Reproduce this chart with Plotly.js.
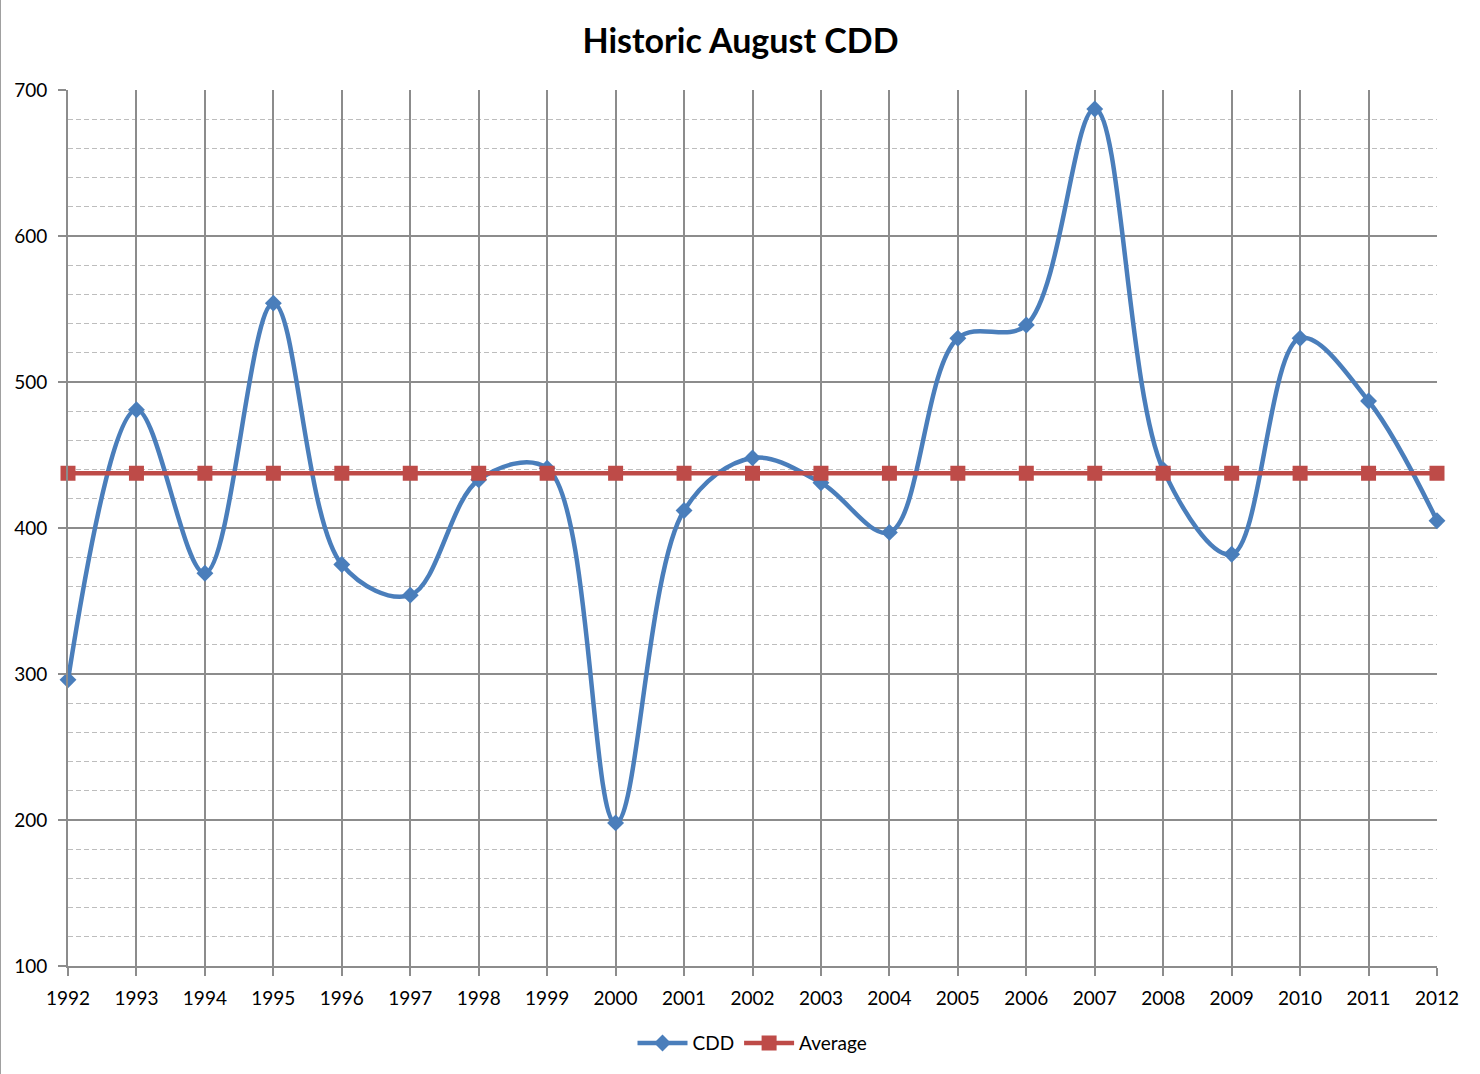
<!DOCTYPE html>
<html>
<head>
<meta charset="utf-8">
<script src="https://cdn.plot.ly/plotly-3.0.1.min.js"></script>
<style>
  body { margin: 0; background: #fff; }
  #chart { width: 1480px; height: 1074px; border-left: 1px solid #a0a0a0; box-sizing: border-box; }
</style>
</head>
<body>
<div id="chart"></div>
<script>
var years = [1992, 1993, 1994, 1995, 1996, 1997, 1998, 1999, 2000, 2001, 2002,
             2003, 2004, 2005, 2006, 2007, 2008, 2009, 2010, 2011, 2012];
var cdd = [296, 481, 369, 554, 375, 354, 433, 441, 198, 412, 448,
           431, 397, 530, 539, 687, 440, 382, 530, 487, 405];
var average = [437.5, 437.5, 437.5, 437.5, 437.5, 437.5, 437.5, 437.5, 437.5, 437.5, 437.5,
               437.5, 437.5, 437.5, 437.5, 437.5, 437.5, 437.5, 437.5, 437.5, 437.5];

var fontFam = 'Lato, "Open Sans", sans-serif';

var trace1 = {
  x: years,
  y: cdd,
  type: 'scatter',
  mode: 'lines+markers',
  name: 'CDD',
  cliponaxis: false,
  line: { color: '#4a7ebb', width: 4.5, shape: 'spline', smoothing: 1 },
  marker: { symbol: 'diamond', size: 13, color: '#4a7ebb' }
};

var trace2 = {
  x: years,
  y: average,
  type: 'scatter',
  mode: 'lines+markers',
  name: 'Average',
  cliponaxis: false,
  line: { color: '#be4b48', width: 4.5 },
  marker: { symbol: 'square', size: 15, color: '#be4b48' }
};

var layout = {
  width: 1479,
  height: 1074,
  paper_bgcolor: '#ffffff',
  plot_bgcolor: '#ffffff',
  margin: { l: 67, r: 43, t: 90, b: 106 },
  font: { family: fontFam, size: 19, color: '#000' },
  title: {
    text: '<b>Historic August CDD</b>',
    font: { family: fontFam, size: 34, color: '#000' },
    x: 0.5, xanchor: 'center', y: 0.962, yanchor: 'middle'
  },
  xaxis: {
    range: [1992, 2012],
    tickmode: 'array',
    tickvals: years,
    ticktext: years.map(String),
    showgrid: true,
    gridcolor: '#8c8c8c',
    gridwidth: 1.5,
    zeroline: false,
    showline: true,
    linecolor: '#8c8c8c',
    linewidth: 2,
    ticks: 'outside',
    ticklen: 8,
    tickcolor: '#8c8c8c',
    tickwidth: 2,
    ticklabelstandoff: 6,
    tickfont: { size: 19 }
  },
  yaxis: {
    range: [100, 700],
    dtick: 100,
    showgrid: true,
    gridcolor: '#8c8c8c',
    gridwidth: 1.5,
    zeroline: false,
    showline: true,
    linecolor: '#8c8c8c',
    linewidth: 2,
    ticks: 'outside',
    ticklen: 8,
    tickcolor: '#8c8c8c',
    tickwidth: 2,
    ticklabelstandoff: 7,
    tickfont: { size: 19 },
    minor: {
      dtick: 20,
      showgrid: true,
      gridcolor: '#bdbdbd',
      gridwidth: 1.2,
      griddash: '5px,3px',
      ticks: ''
    }
  },
  showlegend: true,
  legend: {
    orientation: 'h',
    x: 0.5, xanchor: 'center',
    y: -0.088, yanchor: 'middle',
    font: { family: fontFam, size: 19 },
    itemwidth: 50
  }
};

Plotly.newPlot('chart', [trace1, trace2], layout, { displayModeBar: false });
</script>
</body>
</html>
